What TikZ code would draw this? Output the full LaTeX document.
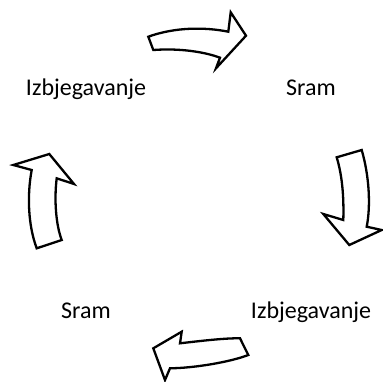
\documentclass[tikz,border=0pt]{standalone}
\usepackage{fontspec}
\setmainfont{Carlito}
\tikzset{
    blockarrow/.style={draw=black, fill=white, line width=2.3pt, line join=miter},
    word/.style={anchor=base, inner sep=0pt, font=\fontsize{24}{29}\selectfont}
}
\begin{document}
\begin{tikzpicture}[x=1pt, y=-1pt]
    \useasboundingbox (0,0) rectangle (383,381);
    \node [word] (avoidtop) at (86,95) {Izbjegavanje};
    \node [word] (shametop) at (311,95) {Sram};
    \node [word] (shamebot) at (86,318) {Sram};
    \node [word] (avoidbot) at (311,318) {Izbjegavanje};
    % top arrow, pointing right
    \draw [blockarrow] (148.3,36.7) .. controls (175,27) and (205,27) .. (228.3,31.7)
        -- (230.7,12.3) -- (246,35.7) -- (216,68.3) -- (220,57.7)
        .. controls (205,52) and (180,48) .. (153.3,50) -- cycle;
    % right arrow, pointing down
    \draw [blockarrow] (336.7,157.3) -- (361.7,150) .. controls (369,175) and (371,205) .. (366.7,226.7)
        -- (381.7,230) -- (349.3,245) -- (323.3,214) -- (343.3,220)
        .. controls (344,195) and (342,175) .. (336.7,157.3) -- cycle;
    % bottom arrow, pointing left
    \draw [blockarrow] (240,338.3) -- (248.3,355) .. controls (230,362) and (195,368) .. (170,368.3)
        -- (165,380) -- (153.3,348.3) -- (181.7,331.7) -- (180,343.3)
        .. controls (200,341) and (225,338) .. (240,338.3) -- cycle;
    % left arrow, pointing up
    \draw [blockarrow] (36.7,248.3) .. controls (28,225) and (27,195) .. (31.7,170)
        -- (13.3,165) -- (49.3,154) -- (74,184) -- (56.7,178.3)
        .. controls (54,200) and (56,225) .. (61.7,240) -- cycle;
\end{tikzpicture}
\end{document}
